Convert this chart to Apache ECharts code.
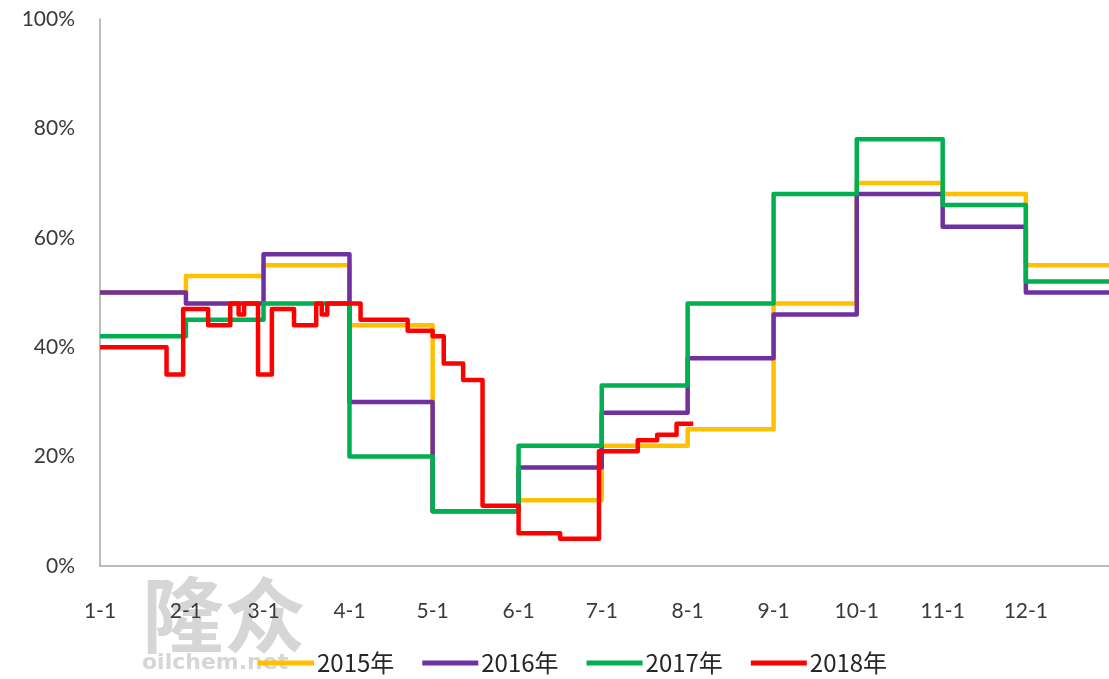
<!DOCTYPE html>
<html>
<head>
	<meta charset="utf-8">
	<title>开工率</title>
	<script type="text/javascript" src="https://cdn.jsdelivr.net/npm/echarts@6/dist/echarts.min.js"></script>
	<style>
		html, body { margin: 0; padding: 0; background: #fff; }
	</style>
</head>
<body>
<div id="main" style="width: 1109px; height: 679px"></div>

<script type="text/javascript">
// 年份（图例）
var years = ['2015年', '2016年', '2017年', '2018年'];
var colors = ['#FFC000', '#7030A0', '#00B050', '#FF0000'];

// 每月1日的刻度标签
var monthStarts = ['1-1', '2-1', '3-1', '4-1', '5-1', '6-1', '7-1', '8-1', '9-1', '10-1', '11-1', '12-1'];

// 2015-2017 每月的数值（%）
var v2015 = [50, 53, 55, 44, 10, 12, 22, 25, 48, 70, 68, 55];
var v2016 = [50, 48, 57, 30, 10, 18, 28, 38, 46, 68, 62, 50];
var v2017 = [42, 45, 48, 20, 10, 22, 33, 48, 68, 78, 66, 52];

// 2018 变化点：日期 / 数值
var d2018 = ['1-1', '1-25', '1-31', '2-9', '2-17', '2-20', '2-22', '2-27', '3-4', '3-12', '3-20', '3-22', '3-24',
             '4-5', '4-22', '5-1', '5-5', '5-12', '5-19', '6-1', '6-16', '6-30', '7-14', '7-21', '7-28', '8-3'];
var v2018 = [40, 35, 47, 44, 48, 46, 48, 35, 47, 44, 48, 46, 48,
             45, 43, 42, 37, 34, 11, 6, 5, 21, 23, 24, 26, 26];

// 横轴：全年每天
var days = [];
var monthLen = [31, 28, 31, 30, 31, 30, 31, 31, 30, 31, 30, 31];
for (var m = 0; m < 12; m++) {
    for (var d = 1; d <= monthLen[m]; d++) {
        days.push((m + 1) + '-' + d);
    }
}

function monthly(vals) {
    var out = monthStarts.map(function (c, i) { return [c, vals[i]]; });
    out.push([days[days.length - 1], vals[vals.length - 1]]);
    return out;
}

var seriesData = [
    monthly(v2015),
    monthly(v2016),
    monthly(v2017),
    d2018.map(function (c, i) { return [c, v2018[i]]; })
];

var myChart = echarts.init(document.getElementById('main'));

option = {
    animation: false,
    color: colors,
    grid: {
        left: 100,
        right: 0,
        top: 19,
        bottom: 113
    },
    legend: {
        left: 253,
        top: 646,
        icon: 'rect',
        itemWidth: 56,
        itemHeight: 5,
        itemGap: 28,
        textStyle: {
            fontFamily: 'Noto Sans CJK SC',
            fontSize: 24,
            color: '#262626',
            padding: [0, 0, 0, -2]
        },
        data: years
    },
    xAxis: {
        type: 'category',
        boundaryGap: false,
        data: days,
        axisLine: { lineStyle: { color: '#A6A6A6', width: 1.5 } },
        axisTick: { show: false },
        axisLabel: {
            interval: function (index, value) { return /-1$/.test(value); },
            margin: 35,
            fontFamily: 'Lato',
            fontSize: 21,
            color: '#3A3A3A'
        }
    },
    yAxis: {
        type: 'value',
        min: 0,
        max: 100,
        interval: 20,
        axisLine: { show: true, lineStyle: { color: '#A6A6A6', width: 1.5 } },
        axisTick: { show: false },
        splitLine: { show: false },
        axisLabel: {
            formatter: '{value}%',
            margin: 25,
            fontFamily: 'Lato',
            fontSize: 21,
            color: '#3A3A3A',
            padding: [8, 0, 0, 0]
        }
    },
    graphic: [
        {
            type: 'text',
            left: 142,
            top: 574,
            z: 0,
            style: { text: '隆众', fontFamily: 'Noto Sans CJK SC', fontWeight: 'bold', fontSize: 82, fill: '#D6D6D6' }
        },
        {
            type: 'text',
            left: 142,
            top: 652,
            z: 0,
            style: { text: 'oilchem.net', fontFamily: 'DejaVu Sans', fontWeight: 'bold', fontSize: 22, fill: '#D6D6D6' }
        }
    ],
    series: years.map(function (name, i) {
        return {
            name: name,
            type: 'line',
            step: 'end',
            symbol: 'none',
            lineStyle: { width: 4.5, join: 'round' },
            data: seriesData[i]
        };
    })
};

myChart.setOption(option);
</script>
</body>
</html>
